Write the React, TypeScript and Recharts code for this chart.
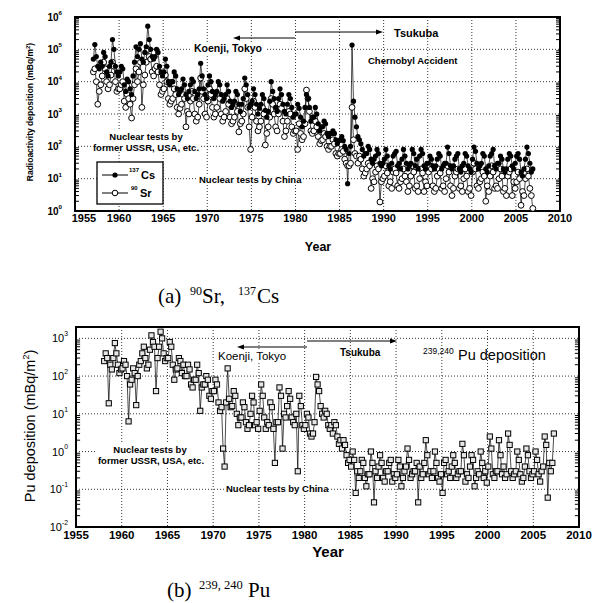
import React from "react";
import {
  ComposedChart,
  Line,
  XAxis,
  YAxis,
  CartesianGrid,
  ReferenceArea,
  ReferenceLine,
} from "recharts";

const FONT = "'Liberation Sans', Arial, Helvetica, sans-serif";
const SERIF = "'Liberation Serif', 'Times New Roman', serif";

const yearTicks = [1955, 1960, 1965, 1970, 1975, 1980, 1985, 1990, 1995, 2000, 2005, 2010];
const fissionDecades = [1, 10, 100, 1000, 10000, 100000, 1000000];
const puDecades = [0.01, 0.1, 1, 10, 100, 1000];

// bimonthly deposition, mBq/m2 : [year, Jan-Feb, Mar-Apr, ..., Nov-Dec]
const cs137 = [
  [1957, 5e4, 1.4e5, 6e4, 3e4, 2.5e4, 4e4],
  [1958, 3e4, 8e4, 6e4, 2e4, 1.5e4, 3e4],
  [1959, 4e4, 2e5, 1e5, 3e4, 2e4, 1.5e4],
  [1960, 2e4, 3e4, 2.5e4, 8e3, 5e3, 1.2e4],
  [1961, 1e4, 6e3, 4e3, 1.5e4, 4e4, 1.2e5],
  [1962, 6e4, 1e5, 1.5e5, 5e4, 4e4, 8e4],
  [1963, 1.2e5, 5.2e5, 2e5, 1e5, 6e4, 5e4],
  [1964, 6e4, 1e5, 8e4, 3e4, 2e4, 1.5e4],
  [1965, 2e4, 5e4, 3e4, 1e4, 8e3, 1e4],
  [1966, 1e4, 2e4, 1.5e4, 6e3, 4e3, 5e3],
  [1967, 6e3, 1.2e4, 8e3, 4e3, 3e3, 5e3],
  [1968, 8e3, 1.2e4, 1e4, 5e3, 3e3, 4e3],
  [1969, 6e3, 3.7e4, 1.5e4, 6e3, 4e3, 3e3],
  [1970, 8e3, 1.5e4, 1e4, 5e3, 3e3, 4e3],
  [1971, 5e3, 1e4, 8e3, 4e3, 2.5e3, 3e3],
  [1972, 4e3, 8e3, 5e3, 2.5e3, 1.6e3, 2e3],
  [1973, 2.5e3, 5e3, 4e3, 2e3, 1.2e3, 2e3],
  [1974, 3e3, 1.3e4, 8e3, 4e3, 1.6e3, 2e3],
  [1975, 2.5e3, 6e3, 4e3, 2e3, 1e3, 1.5e3],
  [1976, 2e3, 4e3, 3e3, 1.3e3, 800, 1.2e3],
  [1977, 2.5e3, 1e4, 5e3, 3e3, 1.6e3, 1.2e3],
  [1978, 3e3, 6e3, 4e3, 2e3, 1.2e3, 1e3],
  [1979, 2e3, 4e3, 3e3, 1.6e3, 800, 1e3],
  [1980, 1e3, 2e3, 1.5e3, 800, 400, 600],
  [1981, 1.6e3, 4e3, 3e3, 1.6e3, 600, 800],
  [1982, 800, 1.6e3, 1e3, 500, 300, 400],
  [1983, 400, 600, 500, 250, 200, 250],
  [1984, 250, 300, 250, 160, 120, 150],
  [1985, 160, 200, 150, 100, 80, 7],
  [1986, 60, 100, 1.35e5, 2.5e3, 800, 400],
  [1987, 200, 160, 120, 80, 50, 60],
  [1988, 60, 100, 80, 40, 30, 40],
  [1989, 50, 80, 60, 30, 25, 30],
  [1990, 40, 80, 50, 25, 20, 30],
  [1991, 50, 60, 70, 25, 30, 20],
  [1992, 40, 80, 50, 30, 20, 25],
  [1993, 30, 80, 60, 25, 40, 20],
  [1994, 50, 80, 60, 25, 20, 30],
  [1995, 30, 50, 40, 25, 20, 25],
  [1996, 40, 60, 50, 20, 25, 30],
  [1997, 30, 95, 60, 25, 20, 25],
  [1998, 40, 50, 60, 20, 16, 25],
  [1999, 30, 60, 50, 25, 20, 16],
  [2000, 40, 95, 70, 30, 20, 25],
  [2001, 30, 60, 50, 20, 16, 25],
  [2002, 50, 60, 80, 25, 20, 30],
  [2003, 30, 50, 40, 20, 16, 20],
  [2004, 40, 60, 50, 25, 20, 30],
  [2005, 50, 60, 40, 16, 12, 20],
  [2006, 40, 95, 60, 30, 16, 20],
];

const sr90 = [
  [1957, 2e4, 2.5e4, 1e4, 2e3, 5e3, 8e3],
  [1958, 1.5e4, 4e4, 2.5e4, 1e4, 6e3, 8e3],
  [1959, 1.6e4, 4e4, 3e4, 1e4, 5e3, 6e3],
  [1960, 6e3, 8e3, 1e4, 2.5e3, 1.6e3, 4e3],
  [1961, 3e3, 2e3, 750, 3e3, 8e3, 2.5e4],
  [1962, 1e4, 2e4, 4e4, 1.6e3, 8e3, 1.6e4],
  [1963, 4e4, 1e5, 6e4, 5e4, 2e4, 1.5e4],
  [1964, 2.5e4, 3e4, 2e4, 8e3, 4e3, 5e3],
  [1965, 6e3, 1.6e4, 1e4, 3e3, 2e3, 2.5e3],
  [1966, 3e3, 6e3, 4e3, 1.6e3, 1e3, 1.5e3],
  [1967, 2e3, 4e3, 3e3, 400, 1.2e3, 1e3],
  [1968, 2.5e3, 5e3, 3e3, 1e3, 600, 800],
  [1969, 2e3, 1.3e4, 5e3, 3e3, 1e3, 800],
  [1970, 2.5e3, 6e3, 4e3, 1.6e3, 800, 1e3],
  [1971, 1.6e3, 4e3, 3e3, 1e3, 600, 800],
  [1972, 1.2e3, 3e3, 2e3, 800, 500, 600],
  [1973, 800, 2e3, 1.2e3, 280, 500, 600],
  [1974, 1e3, 6e3, 3e3, 1.6e3, 400, 80],
  [1975, 800, 2.5e3, 1.6e3, 600, 300, 400],
  [1976, 600, 1.6e3, 1e3, 110, 250, 400],
  [1977, 800, 3e3, 2e3, 1e3, 400, 300],
  [1978, 1e3, 2e3, 1.5e3, 600, 200, 300],
  [1979, 600, 1.2e3, 1e3, 400, 250, 300],
  [1980, 300, 80, 500, 250, 160, 200],
  [1981, 500, 5.5e3, 3e3, 1.2e3, 300, 250],
  [1982, 300, 600, 400, 200, 120, 150],
  [1983, 160, 250, 200, 100, 80, 100],
  [1984, 100, 160, 120, 60, 50, 60],
  [1985, 60, 80, 70, 40, 30, 25],
  [1986, 25, 30, 1.6e3, 160, 60, 50],
  [1987, 30, 50, 40, 20, 12, 15],
  [1988, 20, 30, 25, 5, 10, 8],
  [1989, 16, 25, 20, 1.9, 8, 10],
  [1990, 12, 25, 15, 6, 8, 5],
  [1991, 16, 20, 15, 6, 5, 8],
  [1992, 10, 20, 12, 8, 4, 6],
  [1993, 12, 25, 16, 5, 6, 4],
  [1994, 10, 20, 15, 4, 8, 6],
  [1995, 16, 25, 20, 6, 4, 5],
  [1996, 12, 20, 15, 5, 6, 4],
  [1997, 10, 25, 16, 6, 3, 5],
  [1998, 12, 16, 20, 5, 6, 4],
  [1999, 10, 20, 12, 4, 5, 3],
  [2000, 16, 30, 20, 6, 5, 8],
  [2001, 10, 16, 12, 2, 6, 4],
  [2002, 12, 25, 16, 5, 6, 5],
  [2003, 10, 20, 12, 4, 5, 3],
  [2004, 12, 16, 20, 3, 8, 5],
  [2005, 8, 16, 10, 1.5, 4, 3],
  [2006, 10, 20, 12, 5, 3, 1.2],
];

// panel (b), 239,240Pu in mBq/m2, bimonthly
const pu239240 = [
  [1958, 250, 400, 300, 19, 200, 150],
  [1959, 300, 750, 400, 200, 120, 150],
  [1960, 160, 250, 200, 100, 6.3, 60],
  [1961, 80, 160, 120, 17, 100, 200],
  [1962, 250, 400, 600, 300, 160, 200],
  [1963, 500, 1200, 800, 600, 40, 300],
  [1964, 600, 1500, 1000, 400, 250, 300],
  [1965, 300, 800, 600, 200, 80, 150],
  [1966, 160, 300, 250, 120, 200, 100],
  [1967, 100, 200, 150, 60, 50, 80],
  [1968, 80, 200, 120, 12, 50, 60],
  [1969, 60, 100, 80, 30, 25, 40],
  [1970, 40, 80, 60, 20, 12, 15],
  [1971, 1.2, 0.4, 20, 160, 25, 15],
  [1972, 16, 40, 30, 10, 5, 8],
  [1973, 8, 20, 15, 6, 4, 5],
  [1974, 10, 30, 20, 5, 6, 4],
  [1975, 12, 60, 30, 8, 4, 6],
  [1976, 5, 20, 15, 4, 0.5, 6],
  [1977, 6, 50, 30, 1.2, 10, 8],
  [1978, 16, 40, 25, 8, 6, 5],
  [1979, 10, 0.3, 30, 16, 5, 4],
  [1980, 5, 10, 8, 3, 2.5, 3],
  [1981, 6, 95, 60, 40, 16, 10],
  [1982, 8, 12, 10, 5, 4, 5],
  [1983, 3, 6, 5, 2.5, 1.6, 2],
  [1984, 1.2, 2, 1.5, 0.8, 0.5, 0.6],
  [1985, 0.4, 1, 0.6, 0.08, 0.3, 0.2],
  [1986, 0.3, 0.6, 0.5, 0.2, 0.12, 0.25],
  [1987, 0.25, 1, 0.5, 0.045, 0.3, 0.2],
  [1988, 0.4, 0.8, 0.5, 0.2, 0.16, 0.3],
  [1989, 0.3, 0.5, 0.6, 0.16, 0.25, 0.2],
  [1990, 0.25, 0.6, 0.4, 0.12, 0.2, 0.3],
  [1991, 0.4, 1.2, 0.6, 0.2, 0.25, 0.3],
  [1992, 0.3, 0.5, 0.045, 0.4, 0.2, 0.25],
  [1993, 0.5, 2, 0.8, 0.25, 0.3, 0.2],
  [1994, 0.3, 1, 0.5, 0.2, 0.16, 0.25],
  [1995, 0.08, 0.5, 0.6, 0.25, 0.3, 0.2],
  [1996, 0.4, 0.8, 0.5, 0.2, 0.25, 0.3],
  [1997, 0.3, 1.6, 0.8, 0.16, 0.25, 0.2],
  [1998, 0.4, 0.8, 0.6, 0.12, 0.2, 0.3],
  [1999, 0.25, 1, 0.5, 0.2, 0.3, 0.15],
  [2000, 0.4, 2.5, 1.2, 0.25, 0.2, 0.3],
  [2001, 0.3, 2, 0.8, 0.25, 0.4, 0.2],
  [2002, 0.25, 3, 1.5, 0.3, 0.2, 0.25],
  [2003, 0.3, 1, 0.6, 0.25, 0.16, 0.2],
  [2004, 0.4, 1.2, 0.8, 0.3, 0.2, 0.25],
  [2005, 0.3, 1, 0.6, 0.25, 0.16, 0.3],
  [2006, 0.4, 2.5, 1.5, 0.06, 0.5, 0.3],
  [2007, 0.5, 3],
];

const toPoints = (rows: number[][]) =>
  rows.flatMap(([yr, ...vals]) => vals.map((v, i) => ({ year: yr + (i + 0.5) / 6, value: v })));

const csPts = toPoints(cs137);
const srPts = toPoints(sr90);
const puPts = toPoints(pu239240);

const minors = (decades: number[]) =>
  decades.slice(0, -1).flatMap((d) => [2, 3, 4, 5, 6, 7, 8, 9].map((m) => d * m));

const csDot = (p: any) => <circle key={`cs${p.index}`} cx={p.cx} cy={p.cy} r={2.6} fill="#000" />;
const srDot = (p: any) => (
  <circle key={`sr${p.index}`} cx={p.cx} cy={p.cy} r={2.9} fill="#fff" stroke="#000" strokeWidth={1} />
);
const puDot = (p: any) => (
  <rect key={`pu${p.index}`} x={p.cx - 2.6} y={p.cy - 2.6} width={5.2} height={5.2} fill="#e6e6e6" stroke="#000" strokeWidth={1} />
);

const PowTick = ({ x, y, payload, size, bold }: any) => {
  const e = Math.round(Math.log10(payload.value));
  return (
    <text x={x} y={y} dy={size * 0.36} textAnchor="end" fontSize={size} fontWeight={bold ? 700 : 400} fontFamily={FONT} fill="#000">
      10<tspan dy={-size * 0.55} fontSize={size * 0.62}>{e}</tspan>
    </text>
  );
};

const YearTick = ({ x, y, payload, size, shiftFirst }: any) => (
  <text
    x={x + (shiftFirst && payload.value === 1955 ? 9 : 0)}
    y={y}
    dy={size * 0.75}
    textAnchor="middle"
    fontSize={size}
    fontWeight={700}
    fontFamily={FONT}
    fill="#000"
  >
    {payload.value}
  </text>
);

// inward minor ticks on both y edges
const edgeTicks = (decades: number[], lo: number, hi: number) => {
  const out: React.ReactNode[] = [];
  minors(decades).forEach((v, i) => {
    out.push(<ReferenceLine key={`l${i}`} segment={[{ x: lo, y: v }, { x: lo + 0.45, y: v }]} stroke="#000" strokeWidth={1} />);
    out.push(<ReferenceLine key={`r${i}`} segment={[{ x: hi, y: v }, { x: hi - 0.45, y: v }]} stroke="#000" strokeWidth={1} />);
  });
  return out;
};

const Arrow = ({ x1, x2, y }: { x1: number; x2: number; y: number }) => {
  const dir = x2 > x1 ? 1 : -1;
  return (
    <g>
      <line x1={x1} y1={y} x2={x2 - dir * 6} y2={y} stroke="#000" strokeWidth={1} />
      <polygon points={`${x2},${y} ${x2 - dir * 7},${y - 2.5} ${x2 - dir * 7},${y + 2.5}`} fill="#000" />
    </g>
  );
};

export default function App() {
  return (
    <div style={{ position: "absolute", left: 0, top: 0, width: 598, height: 603, background: "#fff", fontFamily: FONT }}>
      <div style={{ position: "absolute", left: 0, top: 0 }}>
        <ComposedChart width={598} height={240} margin={{ top: 17, right: 38, bottom: 9, left: 35 }}>
          <CartesianGrid stroke="#000" strokeWidth={0.8} strokeDasharray="1 2" />
          <XAxis
            dataKey="year"
            type="number"
            domain={[1955, 2010]}
            ticks={yearTicks}
            allowDataOverflow
            height={20}
            axisLine={false}
            tickLine={false}
            tickSize={3}
            tickMargin={0}
            tick={(p: any) => <YearTick {...p} size={11} shiftFirst />}
          />
          <YAxis
            scale="log"
            type="number"
            domain={[1, 1e6]}
            ticks={fissionDecades}
            allowDataOverflow
            width={40}
            axisLine={false}
            tickLine={false}
            tickSize={8}
            tickMargin={5}
            tick={(p: any) => <PowTick {...p} size={10} bold />}
          />
          {edgeTicks(fissionDecades, 1955, 2010)}
          <Line data={srPts} dataKey="value" type="linear" stroke="#000" strokeWidth={0.7} dot={srDot} isAnimationActive={false} />
          <Line data={csPts} dataKey="value" type="linear" stroke="#000" strokeWidth={0.7} dot={csDot} isAnimationActive={false} />
          <ReferenceArea x1={1955} x2={2010} y1={1} y2={1e6} fill="none" stroke="#000" strokeWidth={2} ifOverflow="visible" />
        </ComposedChart>
      </div>

      <div style={{ position: "absolute", left: 0, top: 300 }}>
        <ComposedChart width={598} height={260} margin={{ top: 27, right: 19, bottom: 13, left: 36 }}>
          <CartesianGrid stroke="#000" strokeWidth={0.8} strokeDasharray="1 2" />
          <XAxis
            dataKey="year"
            type="number"
            domain={[1955, 2010]}
            ticks={yearTicks}
            allowDataOverflow
            height={20}
            axisLine={false}
            tickLine={false}
            tickSize={3}
            tickMargin={0}
            tick={(p: any) => <YearTick {...p} size={11.5} />}
          />
          <YAxis
            scale="log"
            type="number"
            domain={[0.01, 2000]}
            ticks={puDecades}
            allowDataOverflow
            width={40}
            axisLine={false}
            tickLine={false}
            tickSize={6}
            tickMargin={2}
            tick={(p: any) => <PowTick {...p} size={11} />}
          />
          {edgeTicks(puDecades, 1955, 2010)}
          <Line data={puPts} dataKey="value" type="linear" stroke="#000" strokeWidth={0.7} dot={puDot} isAnimationActive={false} />
          <ReferenceArea x1={1955} x2={2010} y1={0.01} y2={2000} fill="none" stroke="#000" strokeWidth={2} ifOverflow="visible" />
        </ComposedChart>
      </div>

      <svg width={598} height={603} style={{ position: "absolute", left: 0, top: 0, pointerEvents: "none" }} fontFamily={FONT}>
        {/* panel (a) annotations */}
        <rect x={190} y={42} width={76} height={12} fill="#fff" />
        <text x={228} y={52} textAnchor="middle" fontSize={10.5} fontWeight={700}>Koenji, Tokyo</text>
        <Arrow x1={295} x2={233} y={38} />
        <Arrow x1={295} x2={383} y={32} />
        <text x={394} y={37} fontSize={11} fontWeight={700}>Tsukuba</text>
        <text x={368} y={64} fontSize={9.5} fontWeight={700}>Chernobyl Accident</text>
        <rect x={93} y={130} width={107} height={22} fill="#fff" />
        <text x={146} y={140} textAnchor="middle" fontSize={9.5} fontWeight={700}>Nuclear tests by</text>
        <text x={146} y={151} textAnchor="middle" fontSize={9.5} fontWeight={700}>former USSR, USA, etc.</text>
        <rect x={197} y={174} width={104} height={11} fill="#fff" />
        <text x={199} y={183} fontSize={9.5} fontWeight={700}>Nuclear tests by China</text>

        <rect x={97} y={162} width={66} height={42} fill="#fff" stroke="#000" strokeWidth={1.3} />
        <line x1={102} y1={175} x2={128} y2={175} stroke="#000" strokeWidth={1} />
        <circle cx={115} cy={175} r={2.6} fill="#000" />
        <text x={129} y={172} fontSize={6} fontWeight={700}>137</text>
        <text x={141} y={179} fontSize={11} fontWeight={700}>Cs</text>
        <line x1={102} y1={193} x2={128} y2={193} stroke="#000" strokeWidth={1} />
        <circle cx={115} cy={193} r={2.8} fill="#fff" stroke="#000" strokeWidth={1} />
        <text x={131} y={190} fontSize={6} fontWeight={700}>90</text>
        <text x={140} y={197} fontSize={11} fontWeight={700}>Sr</text>

        <text transform="translate(33,112) rotate(-90)" textAnchor="middle" fontSize={8.5} fontWeight={700}>
          Radioactivity deposition (mBq/m<tspan dy={-3} fontSize={6}>2</tspan><tspan dy={3}>)</tspan>
        </text>
        <text x={318} y={251} textAnchor="middle" fontSize={12.5} fontWeight={700}>Year</text>

        <text y={303} fontFamily={SERIF} fontSize={21}>
          <tspan x={158}>(a)</tspan>
          <tspan x={190} dy={-8} fontSize={12}>90</tspan>
          <tspan x={202} dy={8}>Sr,</tspan>
          <tspan x={238} dy={-8} fontSize={12}>137</tspan>
          <tspan x={257} dy={8}>Cs</tspan>
        </text>

        {/* panel (b) annotations */}
        <rect x={215} y={350} width={78} height={13} fill="#fff" />
        <text x={218} y={360} fontSize={11.5}>Koenji, Tokyo</text>
        <Arrow x1={307} x2={237} y={347} />
        <Arrow x1={307} x2={397} y={341} />
        <text x={340} y={356} fontSize={10} fontWeight={700}>Tsukuba</text>
        <text x={423} y={354} fontSize={8.5}>239,240</text>
        <text x={458} y={360} fontSize={14.5}>Pu deposition</text>
        <rect x={96} y={442} width={110} height={24} fill="#fff" />
        <text x={150} y={453} textAnchor="middle" fontSize={9.5} fontWeight={700}>Nuclear tests by</text>
        <text x={151} y={464} textAnchor="middle" fontSize={9.5} fontWeight={700}>former USSR, USA, etc.</text>
        <rect x={224} y={483} width={104} height={11} fill="#fff" />
        <text x={226} y={492} fontSize={9.5} fontWeight={700}>Nuclear tests by China</text>

        <text transform="translate(35,426) rotate(-90)" textAnchor="middle" fontSize={14.5}>
          Pu deposition (mBq/m<tspan dy={-6} fontSize={9}>2</tspan><tspan dy={6}>)</tspan>
        </text>
        <text x={328} y={557} textAnchor="middle" fontSize={15} fontWeight={700}>Year</text>

        <text y={597} fontFamily={SERIF} fontSize={21}>
          <tspan x={167}>(b)</tspan>
          <tspan x={199} dy={-8} fontSize={12.5}>239, 240</tspan>
          <tspan x={248} dy={8}>Pu</tspan>
        </text>
      </svg>
    </div>
  );
}
